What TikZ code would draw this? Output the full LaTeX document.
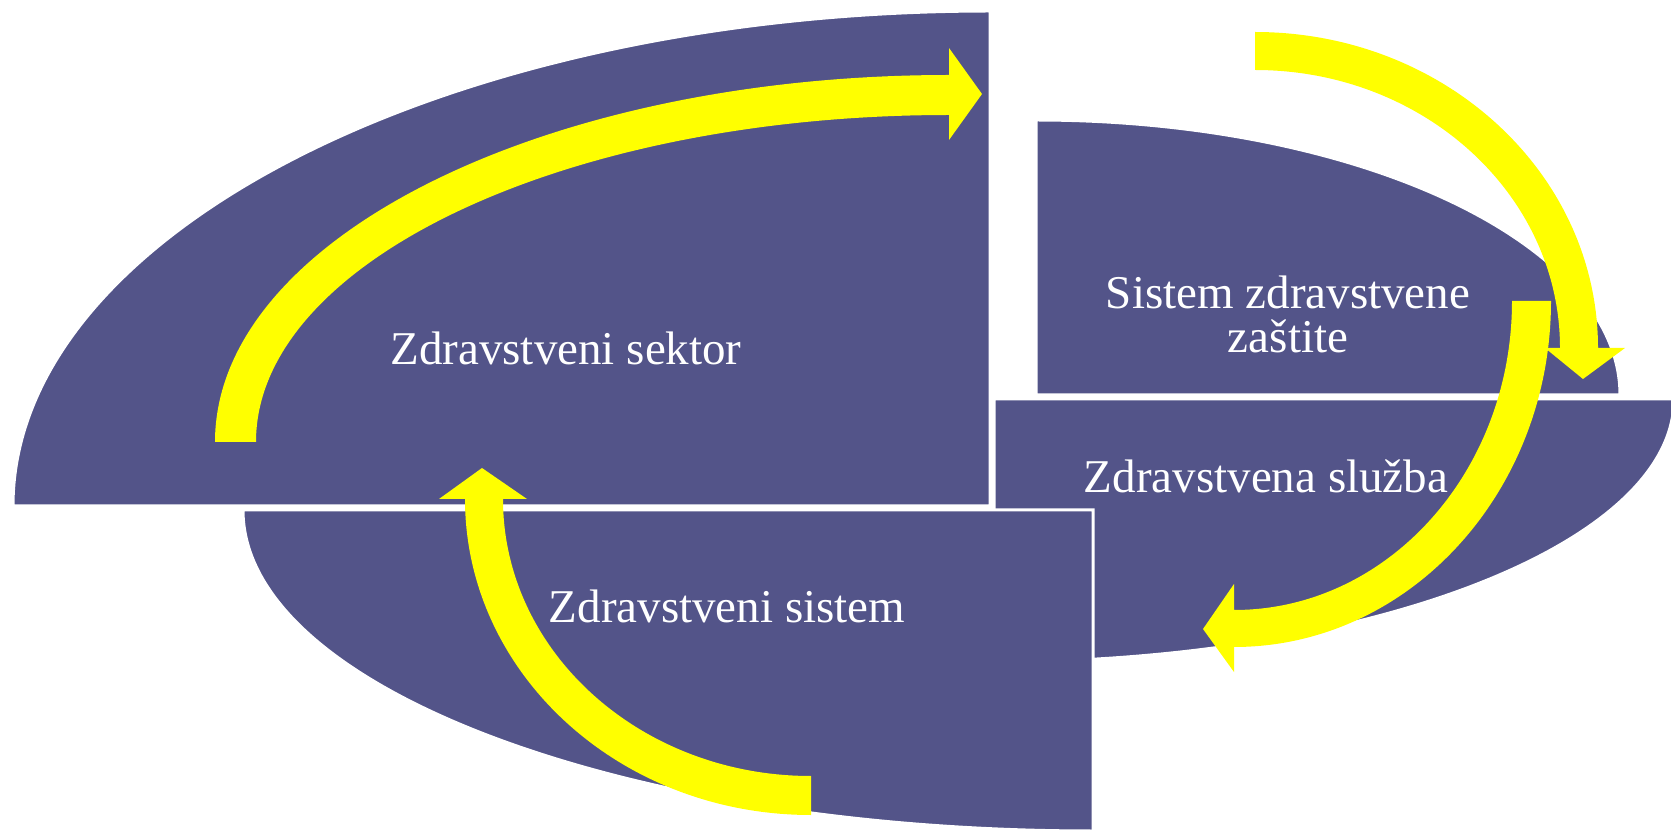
\documentclass[tikz,border=0pt]{standalone}
\usepackage{fontspec}
\setmainfont{Liberation Serif}
\definecolor{segpurple}{RGB}{83,84,137}
\definecolor{arrowyellow}{RGB}{255,255,0}
\begin{document}
\begin{tikzpicture}[x=0.5pt,y=0.5pt,
  segment/.style={fill=segpurple,draw=white,line width=1.5pt,line join=miter},
  cyclearrow/.style={fill=arrowyellow,draw=none},
  segtext/.style={text=white,font=\fontsize{23.5pt}{22pt}\selectfont,anchor=base,inner sep=0pt}]
\useasboundingbox (0,0) rectangle (1671,831);
% segments
\path[segment] (13,325) arc[start angle=180,end angle=90,x radius=977,y radius=495] -- (990,325) -- cycle;
\path[segment] (1036,436) -- (1036,711) arc[start angle=90,end angle=0,x radius=584,y radius=275] -- cycle;
\path[segment] (994,432) -- (1674,432) arc[start angle=0,end angle=-90,x radius=680,y radius=263] -- cycle;
\path[segment] (1093,321) -- (243,321) arc[start angle=180,end angle=270,x radius=850,y radius=321] -- cycle;
% arrows
\path[cyclearrow] (215,389) arc[start angle=180,end angle=90,x radius=734,y radius=367]
  -- (949,783) -- (982,737) -- (949,691) -- (949,716)
  arc[start angle=90,end angle=180,x radius=693,y radius=327] -- cycle;
\path[cyclearrow] (1255,799) arc[start angle=90,end angle=0,x radius=343,y radius=316]
  -- (1625,483) -- (1583,452) -- (1545,483) -- (1560,483)
  arc[start angle=0,end angle=90,x radius=305,y radius=278] -- cycle;
\path[cyclearrow] (1551,530) arc[start angle=0,end angle=-90,x radius=317,y radius=346]
  -- (1234,159) -- (1203,202) -- (1234,247) -- (1234,221)
  arc[start angle=-90,end angle=0,x radius=278,y radius=309] -- cycle;
\path[cyclearrow] (811,16) arc[start angle=270,end angle=180,x radius=346,y radius=316]
  -- (439,332) -- (482,363) -- (527,332) -- (503,332)
  arc[start angle=180,end angle=270,x radius=308,y radius=277] -- cycle;
% labels
\node[segtext] (sektor) at (566,466) {Zdravstveni sektor};
\node[segtext] (zastita1) at (1288,522) {Sistem zdravstvene};
\node[segtext] (zastita2) at (1288,478) {zaštite};
\node[segtext] (sluzba) at (1266,338) {Zdravstvena služba};
\node[segtext] (sistem) at (727,209) {Zdravstveni sistem};
\end{tikzpicture}
\end{document}
